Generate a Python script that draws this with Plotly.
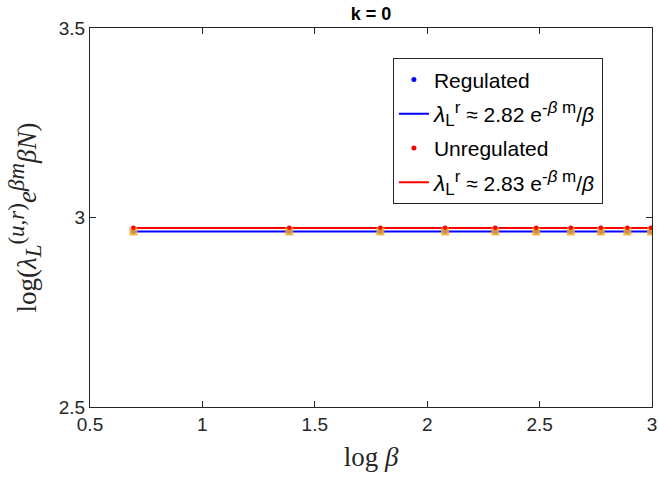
import plotly.graph_objects as go
import numpy as np

# beta values and their logs
beta = [2, 4, 6, 8, 10, 12, 14, 16, 18, 20]
log_beta = list(np.log(beta))

# log(lambda_L e^{beta m} beta N) for each beta
regulated = [2.963, 2.963, 2.963, 2.963, 2.963, 2.963, 2.963, 2.963, 2.963, 2.963]
unregulated = [2.972, 2.972, 2.972, 2.972, 2.972, 2.972, 2.972, 2.972, 2.972, 2.972]

# constant fits
fit_reg = 2.963
fit_unreg = 2.972
fit_x = [log_beta[0], 3.0]

sans = "Liberation Sans, Arial, sans-serif"
serif = "Liberation Serif, Times New Roman, serif"
axis_col = "#262626"


def s(txt, px):
    return f'<span style="font-size:{px}px">{txt}</span>'


def fit_label(c):
    return (f"{s('<i>λ</i>', 23)}<sub>{s('L', 17)}</sub><sup>{s('r', 17)}</sup> ≈ {c} "
            f"e<sup>{s('-<i>β</i> m', 17)}</sup>/<i>β</i>")


fig = go.Figure()

fig.add_trace(go.Scatter(
    x=log_beta, y=regulated, mode="markers",
    marker=dict(color="#0000ff", size=5), legendgroup="a",
    name="Regulated"))
fig.add_trace(go.Scatter(
    x=fit_x, y=[fit_reg, fit_reg], mode="lines",
    line=dict(color="#0000ff", width=2), legendgroup="b",
    name=fit_label("2.82")))
fig.add_trace(go.Scatter(
    x=log_beta, y=unregulated, mode="markers",
    marker=dict(color="#ff0000", size=5), legendgroup="c",
    name="Unregulated"))
fig.add_trace(go.Scatter(
    x=fit_x, y=[fit_unreg, fit_unreg], mode="lines",
    line=dict(color="#ff0000", width=2), legendgroup="d",
    name=fit_label("2.83")))

# highlighted sample points
fig.add_trace(go.Scatter(
    x=log_beta, y=regulated, mode="markers", showlegend=False,
    marker=dict(symbol="square", color="rgba(242,170,45,0.85)", size=8,
                line=dict(width=0)),
    hoverinfo="skip"))
fig.add_trace(go.Scatter(
    x=log_beta, y=unregulated, mode="markers", showlegend=False,
    marker=dict(color="#ff0000", size=4),
    hoverinfo="skip"))

axis_common = dict(
    showgrid=False, zeroline=False, showline=True, linecolor=axis_col,
    linewidth=1, mirror="allticks", ticks="inside", ticklen=6,
    tickcolor=axis_col, tickfont=dict(family=sans, size=19, color="#262626"),
    automargin=False,
)

ylabel = ("log(<i>λ</i><sub>" + s("<i>L</i>", 23) + "</sub><sup>" + s("(<i>u,r</i>)", 23)
          + "</sup><i>e</i><sup>" + s("<i>βm</i>", 23) + "</sup><i>βN</i>)")

fig.update_layout(
    width=659, height=477,
    margin=dict(l=90, r=7, t=28, b=70),
    paper_bgcolor="white", plot_bgcolor="white",
    title=dict(text="<b>k = 0</b>", x=0.563, xanchor="center", y=0.985,
               yanchor="top", font=dict(family=sans, size=18, color="black")),
    xaxis=dict(range=[0.5, 3], tickvals=[0.5, 1, 1.5, 2, 2.5, 3],
               ticktext=["0.5", "1", "1.5", "2", "2.5", "3"],
               title=dict(text="log <i>β</i>", font=dict(family=serif, size=27, color="#262626"),
                          standoff=13),
               **axis_common),
    yaxis=dict(range=[2.5, 3.5], tickvals=[2.5, 3, 3.5],
               ticktext=["2.5", "3", "3.5"],
               title=dict(text=ylabel,
                          font=dict(family=serif, size=27, color="#262626"), standoff=14),
               **axis_common),
    legend=dict(x=0.539, y=0.92, xanchor="left", yanchor="top",
                bgcolor="white", bordercolor="#262626", borderwidth=1,
                font=dict(family=sans, size=21, color="black"),
                itemwidth=30, tracegroupgap=4),
    showlegend=True,
)

fig.write_html("out.html")
